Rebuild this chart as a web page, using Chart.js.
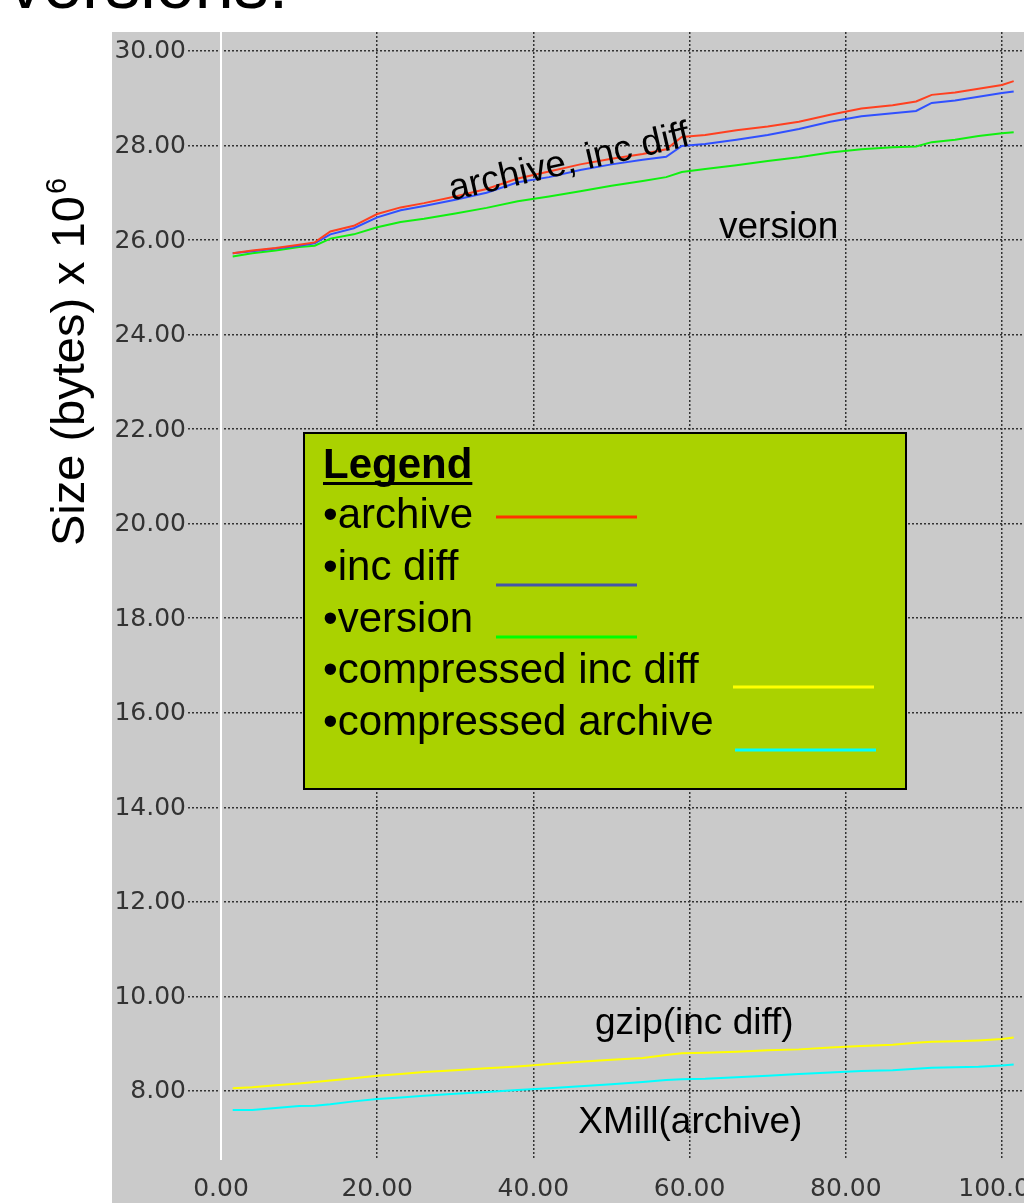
<!DOCTYPE html>
<html>
<head>
<meta charset="utf-8">
<title>Size of archive vs versions</title>
<script src="https://cdn.jsdelivr.net/npm/chart.js@4.4.1/dist/chart.umd.min.js"></script>
<style>
    html, body { margin: 0; padding: 0; background: #fff; }
    #wrap { width: 1024px; height: 1203px; position: relative; }
</style>
</head>
<body>
<div id="wrap"><canvas id="sizeChart"></canvas></div>
<script>
// version number (x axis)
const versionNums = [1.5, 4, 7, 10, 12, 14, 17, 20, 23, 26, 30, 34, 38, 42, 46, 50,
                     54, 57, 59, 62, 66, 70, 74, 78, 82, 86, 89, 91, 94, 97, 100, 101.5];

// sizes in bytes x 10^6
const archiveSize = [25.72, 25.78, 25.83, 25.90, 25.95, 26.18, 26.30, 26.55, 26.69, 26.78, 26.92, 27.08, 27.30, 27.45, 27.60, 27.72,
                     27.82, 27.92, 28.18, 28.22, 28.32, 28.40, 28.50, 28.65, 28.78, 28.85, 28.93, 29.07, 29.12, 29.20, 29.28, 29.36];
const incDiffSize = [25.72, 25.76, 25.82, 25.88, 25.93, 26.12, 26.25, 26.48, 26.63, 26.72, 26.85, 27.00, 27.22, 27.33, 27.48, 27.60,
                     27.70, 27.76, 27.99, 28.03, 28.12, 28.22, 28.35, 28.50, 28.62, 28.68, 28.73, 28.90, 28.95, 29.03, 29.11, 29.14];
const versionSize = [25.65, 25.72, 25.78, 25.85, 25.88, 26.03, 26.12, 26.27, 26.38, 26.45, 26.56, 26.68, 26.82, 26.92, 27.03, 27.15,
                     27.25, 27.33, 27.44, 27.50, 27.58, 27.67, 27.75, 27.85, 27.92, 27.96, 27.98, 28.07, 28.12, 28.20, 28.26, 28.28];
const gzipIncDiff = [8.06, 8.08, 8.12, 8.16, 8.19, 8.22, 8.27, 8.32, 8.36, 8.40, 8.44, 8.48, 8.52, 8.57, 8.62, 8.66,
                     8.70, 8.76, 8.80, 8.81, 8.83, 8.86, 8.88, 8.92, 8.95, 8.98, 9.02, 9.04, 9.05, 9.07, 9.10, 9.13];
const xmillArchive = [7.60, 7.60, 7.64, 7.68, 7.69, 7.72, 7.78, 7.83, 7.86, 7.90, 7.94, 7.98, 8.02, 8.06, 8.10, 8.14,
                      8.19, 8.23, 8.25, 8.26, 8.29, 8.32, 8.36, 8.39, 8.42, 8.44, 8.47, 8.49, 8.50, 8.51, 8.54, 8.56];

const xTicks = [0, 20, 40, 60, 80, 100];
const yTicks = [8, 10, 12, 14, 16, 18, 20, 22, 24, 26, 28, 30];

const seriesNames = ['archive', 'inc diff', 'version', 'compressed inc diff', 'compressed archive'];
const seriesColors = ['#ff4020', '#3050ff', '#10f010', '#ffff00', '#00ffff'];
const legendColors = ['#ff3300', '#4455aa', '#00ff00', '#ffff00', '#00ffff'];

// text labels placed on the plot (data coordinates)
const notes = [
    { text: 'archive, inc diff', x: 44.9, y: 27.42, angle: -13 },
    { text: 'version', x: 71.4, y: 26.04, angle: 0 },
    { text: 'gzip(inc diff)', x: 60.6, y: 9.21, angle: 0 },
    { text: 'XMill(archive)', x: 60.1, y: 7.11, angle: 0 }
];

const FONT = '"Liberation Sans", Arial, Helvetica, sans-serif';
const TICK_FONT = '25px "DejaVu Sans", sans-serif';

const allSeries = [archiveSize, incDiffSize, versionSize, gzipIncDiff, xmillArchive];

const datasets = allSeries.map((vals, i) => ({
    label: seriesNames[i],
    data: versionNums.map((v, j) => ({ x: v, y: vals[j] })),
    borderColor: seriesColors[i],
    borderWidth: 2,
    pointRadius: 0,
    fill: false,
    tension: 0
}));

// fondo gris, titulo cortado y titulo del eje y
const decor = {
    id: 'decor',
    beforeDraw(chart) {
        const c = chart.ctx;
        c.save();
        c.fillStyle = '#fff';
        c.fillRect(0, 0, chart.width, chart.height);
        c.fillStyle = '#cacaca';
        c.fillRect(112, 32, chart.width - 112, chart.height - 32);

        c.fillStyle = '#000';
        c.font = '70px ' + FONT;
        c.textBaseline = 'alphabetic';
        c.fillText('versions:', 8, 8);

        // y axis title
        c.translate(84, 362);
        c.rotate(-Math.PI / 2);
        c.font = '47px ' + FONT;
        const main = 'Size (bytes) x 10';
        const w1 = c.measureText(main).width;
        c.font = '29px ' + FONT;
        const w2 = c.measureText('6').width;
        const start = -(w1 + w2 + 2) / 2;
        c.font = '47px ' + FONT;
        c.fillText(main, start, 0);
        c.font = '29px ' + FONT;
        c.fillText('6', start + w1 + 2, -18);
        c.restore();
    },
    beforeDatasetsDraw(chart) {
        const c = chart.ctx;
        const xs = chart.scales.x, ys = chart.scales.y;
        const area = chart.chartArea;
        c.save();
        // white zero line
        const x0 = xs.getPixelForValue(0);
        c.strokeStyle = '#fff';
        c.lineWidth = 2;
        c.beginPath();
        c.moveTo(x0, area.top);
        c.lineTo(x0, area.bottom);
        c.stroke();

        c.fillStyle = '#333';
        c.font = TICK_FONT;
        c.textAlign = 'right';
        c.textBaseline = 'middle';
        yTicks.forEach(v => c.fillText(v.toFixed(2), 186, ys.getPixelForValue(v) + 1));
        c.textAlign = 'center';
        xTicks.forEach(v => c.fillText(v.toFixed(2), xs.getPixelForValue(v), 1189));
        c.restore();
    },
    afterDatasetsDraw(chart) {
        const c = chart.ctx;
        const xs = chart.scales.x, ys = chart.scales.y;
        c.save();
        c.fillStyle = '#000';
        c.font = '37px ' + FONT;
        c.textAlign = 'center';
        c.textBaseline = 'alphabetic';
        notes.forEach(n => {
            c.save();
            c.translate(xs.getPixelForValue(n.x), ys.getPixelForValue(n.y));
            c.rotate(n.angle * Math.PI / 180);
            c.fillText(n.text, 0, 0);
            c.restore();
        });

        // legend box
        c.fillStyle = '#aad200';
        c.fillRect(304, 433, 602, 356);
        c.strokeStyle = '#000';
        c.lineWidth = 2;
        c.strokeRect(304, 433, 602, 356);

        c.fillStyle = '#000';
        c.textAlign = 'left';
        c.font = 'bold 42px ' + FONT;
        c.fillText('Legend', 323, 478);
        const lw = c.measureText('Legend').width;
        c.fillRect(323, 482, lw, 3);

        c.font = '42px ' + FONT;
        const rows = [528, 580, 632, 683, 735];
        const lineY = [517, 585, 637, 687, 750];
        const lineX = [496, 496, 496, 733, 735];
        seriesNames.forEach((name, i) => {
            c.fillStyle = '#000';
            c.fillText('\u2022' + name, 323, rows[i]);
            c.strokeStyle = legendColors[i];
            c.lineWidth = 3;
            c.beginPath();
            c.moveTo(lineX[i], lineY[i]);
            c.lineTo(lineX[i] + 141, lineY[i]);
            c.stroke();
        });
        c.restore();
    }
};

const fixedTicks = list => scale => { scale.ticks = list.map(v => ({ value: v })); };

new Chart(document.getElementById('sizeChart'), {
    type: 'line',
    data: { datasets: datasets },
    options: {
        responsive: true,
        maintainAspectRatio: false,
        animation: false,
        layout: { padding: { left: 188, top: 32, right: 0, bottom: 43 } },
        plugins: { legend: { display: false }, tooltip: { enabled: false } },
        scales: {
            x: {
                type: 'linear',
                min: -4.225,
                max: 102.82,
                afterBuildTicks: fixedTicks(xTicks),
                ticks: { display: false },
                grid: { color: ctx => ctx.tick && ctx.tick.value === 0 ? 'rgba(0,0,0,0)' : '#333', lineWidth: 1.5, drawTicks: false },
                border: { display: false, dash: [2, 2] }
            },
            y: {
                type: 'linear',
                min: 6.54,
                max: 30.40,
                afterBuildTicks: fixedTicks(yTicks),
                ticks: { display: false },
                grid: { color: '#333', lineWidth: 1.5, drawTicks: false },
                border: { display: false, dash: [2, 2] }
            }
        }
    },
    plugins: [decor]
});
</script>
</body>
</html>
